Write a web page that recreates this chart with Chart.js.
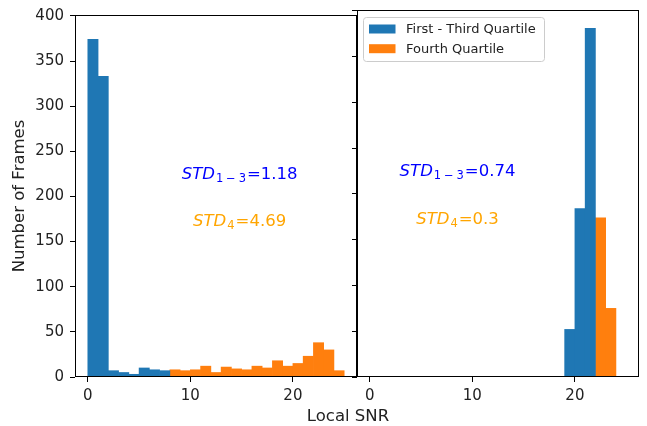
<!DOCTYPE html>
<html>
<head>
<meta charset="utf-8">
<script src="https://cdn.jsdelivr.net/npm/chart.js@4.4.1/dist/chart.umd.min.js"></script>
<style>
  body { margin: 0; background: #fff; }
  #fig { position: relative; width: 647px; height: 426px; overflow: hidden; }
  #fig canvas { position: absolute; top: 0; }
  #left { left: 0; }
  #right { left: 337px; }
  #xlabel { position: absolute; left: 248px; width: 200px; top: 408px; text-align: center;
            font-family: "DejaVu Sans"; font-size: 16.5px; line-height: 16.5px; color: #222; }
</style>
</head>
<body>
<div id="fig">
  <canvas id="left" width="357" height="426"></canvas>
  <canvas id="right" width="310" height="426"></canvas>
  <div id="xlabel">Local SNR</div>
</div>
<script>
// histogram counts, one bin per unit of local SNR (first bin starts at *Start)
const leftQ13Start = 0;
const leftQ13Counts = [374, 333, 7, 5, 3, 10, 8, 7];
const leftQ4Start = 8;
const leftQ4Counts = [8, 7, 8, 12, 5, 11, 9, 8, 12, 10, 18, 12, 15, 23, 38, 30, 7];
const rightQ13Start = 19;
const rightQ13Counts = [52, 184, 381];
const rightQ4Start = 22;
const rightQ4Counts = [174, 75];

const seriesLabels = ['First - Third Quartile', 'Fourth Quartile'];
const std13 = [1.18, 0.74];   // left, right panel
const std4 = [4.69, 0.3];
const xTicks = [0, 10, 20];
const yTicks = [0, 50, 100, 150, 200, 250, 300, 350, 400];

const BLUE = '#1f77b4';
const ORANGE = '#ff7f0e';
const FONT = 'DejaVu Sans';

Chart.defaults.font.family = FONT;
Chart.defaults.color = '#222';

function toBins(start, counts) {
  return counts.map((c, i) => ({ x: start + i + 0.5, y: c }));
}

// black box around the plot area
const frame = {
  id: 'frame',
  afterDraw(chart) {
    const { ctx, chartArea: a } = chart;
    ctx.save();
    ctx.strokeStyle = '#000';
    ctx.lineWidth = 1;
    ctx.strokeRect(Math.round(a.left) + 0.5, Math.round(a.top) + 0.5,
      Math.round(a.right - a.left) - 1, Math.round(a.bottom - a.top) - 1);
    ctx.restore();
  }
};

// STD_{..}=value labels, mathtext style
const stdText = {
  id: 'stdText',
  afterDatasetsDraw(chart, args, opts) {
    const { ctx, scales } = chart;
    const size = 16.5, sub = 11.5;
    const fIt = 'italic ' + size + 'px "' + FONT + '"';
    const fReg = size + 'px "' + FONT + '"';
    const fSub = sub + 'px "' + FONT + '"';
    ctx.save();
    ctx.textAlign = 'left';
    ctx.textBaseline = 'alphabetic';
    for (const it of opts.items) {
      const cx = scales.x.getPixelForValue(it.x);
      const cy = scales.y.getPixelForValue(it.y);
      const gap = sub * 0.25;
      ctx.font = fIt; const wBase = ctx.measureText('STD').width + 1;
      ctx.font = fSub;
      const subW = it.sub.reduce((s, p) => s + ctx.measureText(p).width, 0) + gap * (it.sub.length - 1);
      const rest = '=' + String(it.value);
      ctx.font = fReg; const wRest = ctx.measureText(rest).width;
      let x = cx - (wBase + subW + 1 + wRest) / 2;
      const base = cy + 0.36 * size;
      ctx.fillStyle = it.color;
      ctx.font = fIt; ctx.fillText('STD', x, base); x += wBase;
      ctx.font = fSub;
      it.sub.forEach((p, i) => {
        ctx.fillText(p, x, base + 3);
        x += ctx.measureText(p).width + (i < it.sub.length - 1 ? gap : 0);
      });
      x += 1;
      ctx.font = fReg; ctx.fillText(rest, x, base);
    }
    ctx.restore();
  }
};

// matplotlib-like legend inside the plot area
const boxLegend = {
  id: 'boxLegend',
  afterDraw(chart) {
    const { ctx, chartArea: a } = chart;
    const ds = chart.data.datasets;
    ctx.save();
    ctx.font = '13px "' + FONT + '"';
    const textW = Math.max(...ds.map(d => ctx.measureText(d.label).width));
    const x0 = Math.round(a.left) + 6.5, y0 = Math.round(a.top) + 7.5;
    const w = Math.round(43 + textW + 8), h = 44;
    ctx.beginPath();
    if (ctx.roundRect) ctx.roundRect(x0, y0, w, h, 3); else ctx.rect(x0, y0, w, h);
    ctx.fillStyle = 'rgba(255,255,255,0.8)';
    ctx.fill();
    ctx.strokeStyle = '#cccccc';
    ctx.lineWidth = 1;
    ctx.stroke();
    ds.forEach((d, i) => {
      const cy = y0 + 11.5 + i * 19.7;
      ctx.fillStyle = d.backgroundColor;
      ctx.fillRect(x0 + 5.5, cy - 4.5, 26.5, 9);
      ctx.fillStyle = '#222';
      ctx.textBaseline = 'middle';
      ctx.fillText(d.label, x0 + 42.5, cy + 0.5);
    });
    ctx.restore();
  }
};

function makePanel(id, q13, q4, opt) {
  return new Chart(document.getElementById(id), {
    type: 'bar',
    data: {
      datasets: [
        { label: seriesLabels[0], data: q13, backgroundColor: BLUE },
        { label: seriesLabels[1], data: q4, backgroundColor: ORANGE }
      ]
    },
    options: {
      responsive: false,
      animation: false,
      grouped: false,
      barPercentage: 1,
      categoryPercentage: 1,
      borderWidth: 0,
      layout: { padding: { top: 10, right: opt.padRight, left: 0, bottom: 0 } },
      plugins: {
        legend: { display: false },
        tooltip: { enabled: false },
        stdText: { items: opt.texts }
      },
      scales: {
        x: {
          type: 'linear',
          min: -1.25,
          max: 26.25,
          offset: false,
          border: { display: false },
          grid: { offset: false, drawOnChartArea: false, drawTicks: true, tickLength: 5, tickColor: '#000' },
          ticks: { padding: 5, maxRotation: 0, autoSkip: false,
                   font: { size: 15 }, color: '#222' },
          afterBuildTicks: s => { s.ticks = xTicks.map(v => ({ value: v })); },
          afterFit: s => { s.height = 49; }
        },
        y: {
          min: 0,
          max: 401,
          border: { display: false },
          grid: { drawOnChartArea: false, drawTicks: true, tickLength: 5, tickColor: '#000' },
          ticks: { padding: 6, autoSkip: false,
                   display: opt.yLabels, font: { size: 15 }, color: '#222' },
          afterBuildTicks: s => { s.ticks = yTicks.map(v => ({ value: v })); },
          title: { display: opt.yLabels, text: 'Number of Frames', font: { size: 16.5 },
                   color: '#222', padding: { top: 10, bottom: 0 } },
          afterFit: s => { s.width = opt.yWidth; }
        }
      }
    },
    plugins: [frame, stdText].concat(opt.legend ? [boxLegend] : [])
  });
}

makePanel('left', toBins(leftQ13Start, leftQ13Counts), toBins(leftQ4Start, leftQ4Counts), {
  padRight: 0, yWidth: 75, yLabels: true, legend: false,
  texts: [
    { x: 14.8, y: 226, sub: ['1', '\u2212', '3'], value: std13[0], color: 'blue' },
    { x: 14.8, y: 174, sub: ['4'], value: std4[0], color: 'orange' }
  ]
});

makePanel('right', toBins(rightQ13Start, rightQ13Counts), toBins(rightQ4Start, rightQ4Counts), {
  padRight: 8, yWidth: 20, yLabels: false, legend: true,
  texts: [
    { x: 8.55, y: 226, sub: ['1', '\u2212', '3'], value: std13[1], color: 'blue' },
    { x: 8.55, y: 174, sub: ['4'], value: std4[1], color: 'orange' }
  ]
});
</script>
</body>
</html>
